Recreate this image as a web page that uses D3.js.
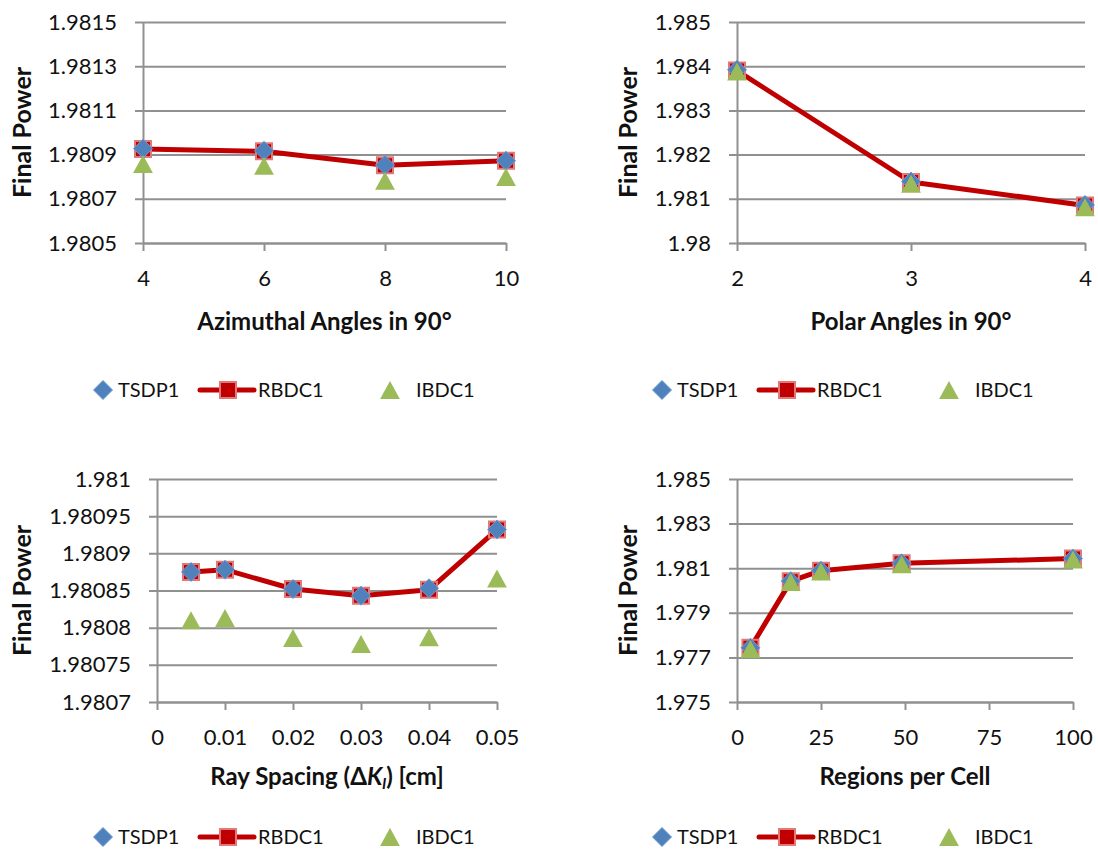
<!DOCTYPE html>
<html lang="en">
<head>
<meta charset="UTF-8">
<title>Final Power sensitivity</title>
<script src="https://d3js.org/d3.v7.min.js"></script>
<style>
  body { margin: 0; background: #fff; }
  text { font-family: Lato, "DejaVu Sans", sans-serif; fill: #111; }
</style>
</head>
<body>
<script>
// ---- data ----
const seriesNames = ["TSDP1", "RBDC1", "IBDC1"];

const azimuthal = [4, 6, 8, 10];
const azTSDP1 = [1.980927, 1.980917, 1.980853, 1.980872];
const azRBDC1 = [1.980925, 1.980915, 1.980852, 1.980872];
const azIBDC1 = [1.980858, 1.980850, 1.980782, 1.980799];
const azYTicks = [1.9805, 1.9807, 1.9809, 1.9811, 1.9813, 1.9815];

const polar = [2, 3, 4];
const polTSDP1 = [1.98392, 1.98139, 1.98086];
const polRBDC1 = [1.98390, 1.98138, 1.98085];
const polIBDC1 = [1.98388, 1.98134, 1.98081];
const polYTicks = [1.980, 1.981, 1.982, 1.983, 1.984, 1.985];

const raySpacing = [0.005, 0.01, 0.02, 0.03, 0.04, 0.05];
const rayTSDP1 = [1.980875, 1.980878, 1.980852, 1.980843, 1.980853, 1.980932];
const rayRBDC1 = [1.980875, 1.980878, 1.980852, 1.980843, 1.980851, 1.980932];
const rayIBDC1 = [1.980810, 1.980813, 1.980786, 1.980778, 1.980787, 1.980866];
const rayXTicks = [0, 0.01, 0.02, 0.03, 0.04, 0.05];
const rayYTicks = [1.9807, 1.98075, 1.9808, 1.98085, 1.9809, 1.98095, 1.981];

const regions = [4, 16, 25, 49, 100];
const regTSDP1 = [1.97743, 1.98042, 1.98089, 1.98122, 1.98143];
const regRBDC1 = [1.97743, 1.98042, 1.98089, 1.98122, 1.98143];
const regIBDC1 = [1.97738, 1.98038, 1.98085, 1.98118, 1.98139];
const regXTicks = [0, 25, 50, 75, 100];
const regYTicks = [1.975, 1.977, 1.979, 1.981, 1.983, 1.985];

// ---- styles ----
const RED = "#C00000", BLUE = "#4F81BD", GREEN = "#9BBB59", GRID = "#909090";
const fmt = d3.format("~g");

const svg = d3.select("body").append("svg")
  .attr("width", 1098).attr("height", 861);

// marker shapes centred on 0,0
function diamond(r) { return `M0,${-r}L${r},0L0,${r}L${-r},0Z`; }
function square(r) { return `M${-r},${-r}H${r}V${r}H${-r}Z`; }
function triangle(r) { return `M0,${-r}L${r * 1.1},${r}L${-r * 1.1},${r}Z`; }

function drawMarkers(g, pts, kind) {
  const p = g.append("g").selectAll("path").data(pts).join("path")
    .attr("transform", d => `translate(${d[0]},${d[1]})`);
  if (kind === 0) p.attr("d", diamond(9.5)).attr("fill", BLUE).attr("stroke", "#6f9ad0").attr("stroke-width", 1);
  if (kind === 1) p.attr("d", square(8)).attr("fill", RED).attr("stroke", "#e07a7a").attr("stroke-width", 2);
  if (kind === 2) p.attr("d", triangle(9)).attr("fill", GREEN);
}

function panel(c) {
  const x = d3.scaleLinear().domain(c.xDomain).range(c.xRange);
  const y = d3.scaleLinear().domain(c.yDomain).range(c.yRange);
  const w = c.xRange[1] - c.xRange[0];
  const g = svg.append("g");

  // y axis + gridlines
  const ya = g.append("g").attr("transform", `translate(${c.xRange[0]},0)`)
    .call(d3.axisLeft(y).tickValues(c.yTicks).tickFormat(fmt)
      .tickSizeInner(-w).tickSizeOuter(0).tickPadding(26));
  ya.selectAll(".tick line").attr("x1", -8).attr("stroke", GRID).attr("stroke-width", 2);
  ya.select(".domain").attr("stroke", GRID).attr("stroke-width", 2);
  ya.selectAll("text").attr("font-size", 22).attr("font-family", null);

  // x axis
  const xa = g.append("g").attr("transform", `translate(0,${c.yRange[0]})`)
    .call(d3.axisBottom(x).tickValues(c.xTicks).tickFormat(fmt)
      .tickSizeInner(8).tickSizeOuter(0).tickPadding(19));
  xa.selectAll(".tick line").attr("stroke", GRID).attr("stroke-width", 2);
  xa.select(".domain").attr("stroke", GRID).attr("stroke-width", 2);
  xa.selectAll("text").attr("font-size", 22).attr("font-family", null);

  // axis titles
  const xt = g.append("text")
    .attr("x", (c.xRange[0] + c.xRange[1]) / 2).attr("y", c.yRange[0] + c.titleDy)
    .attr("text-anchor", "middle").attr("dy", "0.35em")
    .attr("font-size", 24).attr("font-weight", "bold");
  c.xTitle(xt);
  g.append("text")
    .attr("transform", `translate(${c.yTitleX},${(c.yRange[0] + c.yRange[1]) / 2}) rotate(-90)`)
    .attr("text-anchor", "middle").attr("dy", "0.35em")
    .attr("font-size", 25).attr("font-weight", "bold")
    .text("Final Power");

  // series
  const pts = s => c.xs.map((v, i) => [x(v), y(s[i])]);
  g.append("path").datum(pts(c.rbdc))
    .attr("d", d3.line()).attr("fill", "none")
    .attr("stroke", RED).attr("stroke-width", 5).attr("stroke-linejoin", "round");
  drawMarkers(g, pts(c.rbdc), 1);
  drawMarkers(g, pts(c.tsdp), 0);
  drawMarkers(g, pts(c.ibdc), 2);
}

function legend(ox, oy) {
  const g = svg.append("g").attr("transform", `translate(${ox},${oy})`);
  drawMarkers(g, [[103, 0]], 0);
  g.append("line").attr("x1", 200).attr("x2", 254).attr("stroke", RED)
    .attr("stroke-width", 5).attr("stroke-linecap", "round");
  drawMarkers(g, [[228, 0]], 1);
  drawMarkers(g, [[390, 0]], 2);
  const tx = [118, 258, 416];
  g.selectAll("text.lg").data(seriesNames).join("text")
    .attr("x", (d, i) => tx[i]).attr("dy", "0.35em")
    .attr("font-size", 20).text(d => d);
}

panel({
  xs: azimuthal, tsdp: azTSDP1, rbdc: azRBDC1, ibdc: azIBDC1,
  xDomain: [4, 10], xRange: [143, 506], xTicks: azimuthal,
  yDomain: [1.9805, 1.9815], yRange: [243, 22], yTicks: azYTicks,
  titleDy: 79, yTitleX: 22,
  xTitle: t => t.text("Azimuthal Angles in 90°")
});
panel({
  xs: polar, tsdp: polTSDP1, rbdc: polRBDC1, ibdc: polIBDC1,
  xDomain: [2, 4], xRange: [737, 1085], xTicks: polar,
  yDomain: [1.980, 1.985], yRange: [243, 22], yTicks: polYTicks,
  titleDy: 79, yTitleX: 628,
  xTitle: t => t.text("Polar Angles in 90°")
});
panel({
  xs: raySpacing, tsdp: rayTSDP1, rbdc: rayRBDC1, ibdc: rayIBDC1,
  xDomain: [0, 0.05], xRange: [157, 497], xTicks: rayXTicks,
  yDomain: [1.9807, 1.981], yRange: [702, 479], yTicks: rayYTicks,
  titleDy: 75, yTitleX: 22,
  xTitle: t => {
    t.append("tspan").text("Ray Spacing (\u0394");
    t.append("tspan").attr("font-style", "italic").text("K");
    t.append("tspan").attr("font-style", "italic").attr("font-size", 16)
      .attr("baseline-shift", "-25%").text("l");
    t.append("tspan").text(") [cm]");
  }
});
panel({
  xs: regions, tsdp: regTSDP1, rbdc: regRBDC1, ibdc: regIBDC1,
  xDomain: [0, 100], xRange: [737, 1073], xTicks: regXTicks,
  yDomain: [1.975, 1.985], yRange: [702, 479], yTicks: regYTicks,
  titleDy: 75, yTitleX: 628,
  xTitle: t => t.text("Regions per Cell")
});

legend(0, 390);
legend(559, 390);
legend(0, 837);
legend(559, 837);
</script>
</body>
</html>
